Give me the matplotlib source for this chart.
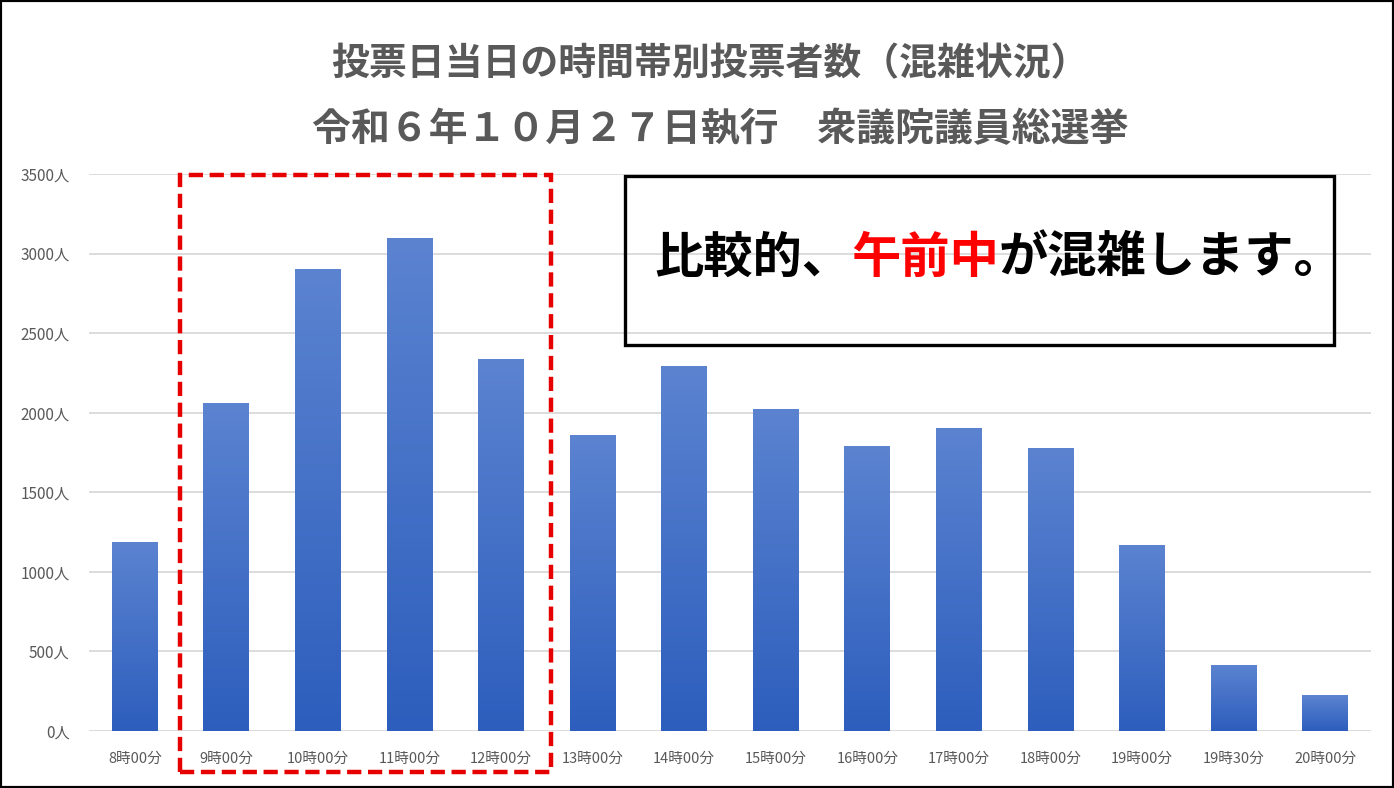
import numpy as np
import matplotlib.pyplot as plt
from matplotlib.colors import LinearSegmentedColormap
from matplotlib.patches import Rectangle

plt.rcParams['font.family'] = ['Noto Sans CJK JP', 'DejaVu Sans']

# data
times = ['8時00分', '9時00分', '10時00分', '11時00分', '12時00分', '13時00分', '14時00分',
         '15時00分', '16時00分', '17時00分', '18時00分', '19時00分', '19時30分', '20時00分']
voters = [1185, 2060, 2900, 3100, 2335, 1860, 2290, 2025, 1787, 1906, 1775, 1169, 416, 224]
yticks = [0, 500, 1000, 1500, 2000, 2500, 3000, 3500]

title1 = '投票日当日の時間帯別投票者数（混雑状況）'
title2 = '令和６年１０月２７日執行　衆議院議員総選挙'
note_parts = [('比較的、', 'black'), ('午前中', '#ff0000'), ('が混雑します。', 'black')]

fig = plt.figure(figsize=(13.94, 7.88), dpi=100)
ax = fig.add_axes([89 / 1394, 1 - 730.7 / 788, (1371 - 89) / 1394, (730.7 - 174) / 788])

x = np.arange(len(times))
bars = ax.bar(x, voters, width=0.5, color='#4472c4', zorder=2)

# vertical gradient inside each bar
cmap = LinearSegmentedColormap.from_list('blues', ['#5b83d0', '#2d5ebd'])
grad = np.linspace(0, 1, 256).reshape(-1, 1)
for b in bars:
    x0, w, h = b.get_x(), b.get_width(), b.get_height()
    im = ax.imshow(grad, extent=[x0, x0 + w, 0, h], aspect='auto', cmap=cmap,
                   origin='upper', zorder=3)
    im.set_clip_path(b)

ax.set_xlim(-0.5, len(times) - 0.5)
ax.set_ylim(0, 3500)
ax.set_yticks(yticks)
ax.set_yticklabels([f'{v}人' for v in yticks])
ax.set_xticks(x)
ax.set_xticklabels(times)
ax.tick_params(length=0, labelcolor='#595959')
ax.tick_params(axis='y', pad=14, labelsize=11)
ax.tick_params(axis='x', pad=15, labelsize=10.5)
ax.grid(axis='y', color='#d9d9d9', linewidth=1.3, zorder=0)
ax.set_axisbelow(True)
for s in ax.spines.values():
    s.set_visible(False)

# red dashed box around the morning bars
ax.add_patch(Rectangle((0.49, -260), 4.06, 3754, fill=False, edgecolor='#e60000',
                       linewidth=3.2, linestyle=(0, (3.2, 1.5)), clip_on=False, zorder=5))

# titles
fig.text(0.509, 1 - 64 / 788, title1, ha='center', va='center', fontsize=27.3,
         fontweight='bold', color='#595959')
fig.text(0.5165, 1 - 130 / 788, title2, ha='center', va='center', fontsize=28,
         fontweight='bold', color='#595959')

# note box
fig.add_artist(Rectangle((625 / 1394, 1 - 345 / 788), 709 / 1394, 169 / 788,
                         transform=fig.transFigure, fill=False, edgecolor='black',
                         linewidth=2.4, zorder=6))
renderer = fig.canvas.get_renderer()
xpos = 654 / 1394
for txt, col in note_parts:
    t = fig.text(xpos, 1 - 258 / 788, txt, ha='left', va='center', fontsize=35.5,
                 fontweight='bold', color=col)
    bb = t.get_window_extent(renderer)
    xpos += bb.width / fig.bbox.width

# outer frame
fig.add_artist(Rectangle((0, 0), 1, 1, transform=fig.transFigure, fill=False,
                         edgecolor='black', linewidth=3))

fig.savefig('out.png', dpi=100)
